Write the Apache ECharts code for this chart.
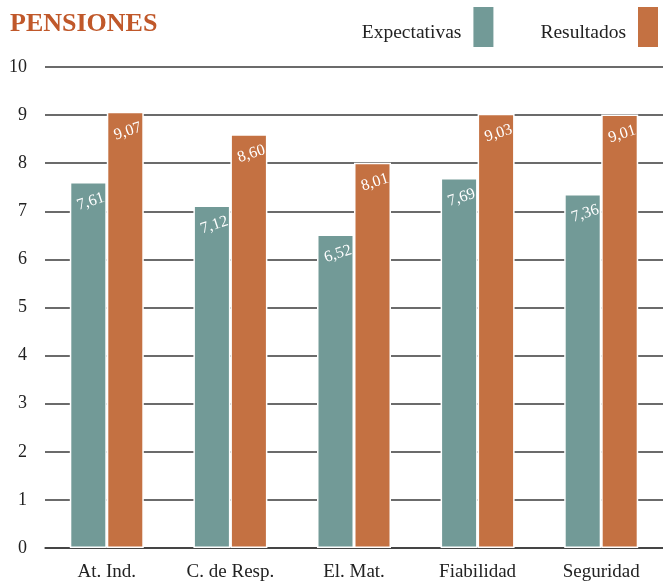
<!DOCTYPE html>
<html>
<head>
<meta charset="utf-8">
<script src="https://cdn.jsdelivr.net/npm/echarts@6/dist/echarts.min.js"></script>
<style>
  html, body { margin: 0; padding: 0; background: #fff; }
  #chart { width: 663px; height: 583px; }
</style>
</head>
<body>
<div id="chart"></div>
<script>
const categories = ["At. Ind.", "C. de Resp.", "El. Mat.", "Fiabilidad", "Seguridad"];
const expectativas = [7.61, 7.12, 6.52, 7.69, 7.36];
const resultados = [9.07, 8.60, 8.01, 9.03, 9.01];
const yTicks = [0, 1, 2, 3, 4, 5, 6, 7, 8, 9, 10];

const serif = "'Liberation Serif', 'DejaVu Serif', serif";

// etiqueta blanca inclinada dentro de la barra
const barLabel = {
	show: true,
	position: "insideTop",
	distance: 12,
	rotate: 18,
	color: "#fff",
	fontFamily: serif,
	fontSize: 16,
	formatter: (p) => p.value.toFixed(2).replace(".", ","),
};

const chart = echarts.init(document.getElementById("chart"));
chart.setOption({
	animation: false,
	title: {
		text: "PENSIONES",
		left: 5,
		top: 6,
		textStyle: { color: "#c0582a", fontFamily: serif, fontSize: 26, fontWeight: "bold" },
	},
	legend: {
		right: 3,
		top: 5,
		padding: 0,
		itemWidth: 22,
		itemHeight: 42,
		itemGap: 45,
		align: "right",
		icon: "rect",
		formatter: "{t|{name}}",
		textStyle: {
			rich: { t: { fontFamily: serif, fontSize: 19.5, color: "#222", padding: [12, 6, 0, 0] } },
		},
	},
	grid: { left: 45, right: 0, top: 67, bottom: 35 },
	xAxis: {
		type: "category",
		data: categories,
		axisLine: { lineStyle: { color: "#3a3a3a", width: 1.5 } },
		axisTick: { show: false },
		axisLabel: { fontFamily: serif, fontSize: 19, color: "#222", margin: 15 },
	},
	yAxis: {
		type: "value",
		min: yTicks[0],
		max: yTicks[yTicks.length - 1],
		interval: 1,
		axisLine: { show: false },
		axisTick: { show: false },
		axisLabel: { fontFamily: serif, fontSize: 18, color: "#222", margin: 18 },
		splitLine: { lineStyle: { color: "#3a3a3a", width: 1.5 } },
	},
	series: [
		{
			name: "Expectativas",
			type: "bar",
			data: expectativas,
			barWidth: 37,
			barGap: "0%",
			itemStyle: { color: "#729a97", borderColor: "#fff", borderWidth: 1.5 },
			label: barLabel,
		},
		{
			name: "Resultados",
			type: "bar",
			data: resultados,
			barWidth: 37,
			itemStyle: { color: "#c47142", borderColor: "#fff", borderWidth: 1.5 },
			label: barLabel,
		},
	],
});
</script>
</body>
</html>
